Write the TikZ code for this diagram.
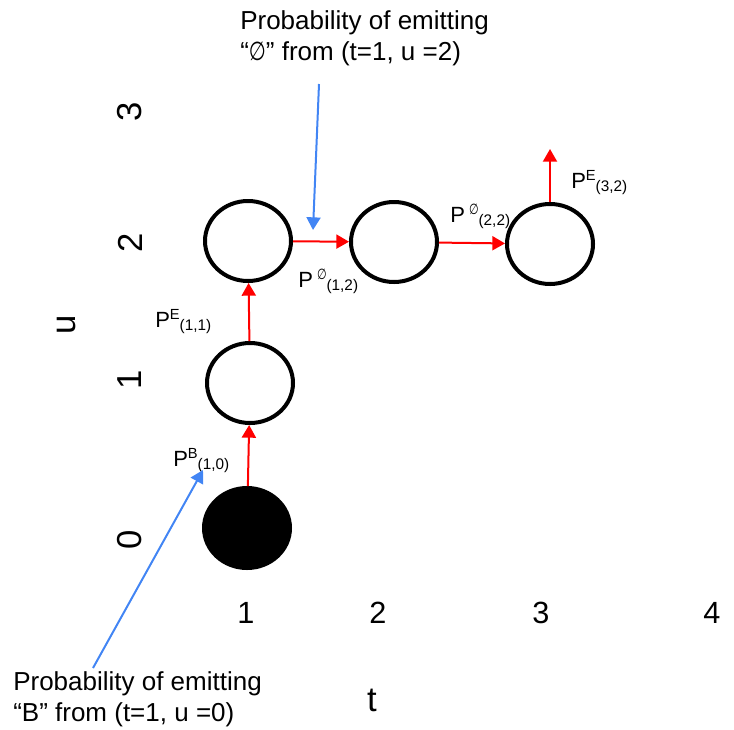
\documentclass[tikz,border=0pt]{standalone}
\usepackage{fontspec}
\setmainfont{Liberation Sans}
\newfontfamily\symfont{DejaVu Sans}
\usetikzlibrary{shapes.geometric,arrows.meta}
\definecolor{arrowred}{RGB}{255,0,0}
\definecolor{noteblue}{RGB}{66,133,244}
\newcommand{\emptysym}{\scalebox{0.75}[1]{\symfont ∅}}
\newcommand{\plab}[2]{P\raisebox{5.5pt}{\fontsize{11}{12}\selectfont #1}\raisebox{-2.5pt}{\fontsize{11.5}{12}\selectfont #2}}
\begin{document}
\begin{tikzpicture}[x=0.75pt,y=-0.75pt,
  state/.style={ellipse,draw=black,line width=3pt,minimum width=64.5pt,minimum height=60pt,inner sep=0pt},
  redarrow/.style={draw=arrowred,line width=1.5pt,-{Triangle[length=9.5pt,width=10.5pt]}},
  bluearrow/.style={draw=noteblue,line width=1.5pt,-{Triangle[length=9.5pt,width=10.5pt]}},
  lab/.style={font=\fontsize{16.5}{18}\selectfont,inner sep=0pt,anchor=base west},
  note/.style={font=\fontsize{19.5}{23.25}\selectfont,align=left,inner sep=0pt,anchor=north west},
  tick/.style={font=\fontsize{23}{26}\selectfont,inner sep=0pt},
  ytick/.style={font=\fontsize{26}{28}\selectfont,inner sep=0pt,rotate=90},
]
\useasboundingbox (0,0) rectangle (734,729);

% states
\node[state,fill=black] (s0) at (247,528) {};
\node[state] (s1) at (250,383) {};
\node[state] (s2) at (248,241) {};
\node[state] (s3) at (394,242) {};
\node[state] (s4) at (550,244) {};
\coordinate (top) at (550,149);

% transitions
\draw[redarrow] (s0) -- (s1);
\draw[redarrow] (s1) -- (s2);
\draw[redarrow] (s2) -- (s3);
\draw[redarrow] (s3) -- (s4);
\draw[redarrow] (s4) -- (top);

% transition labels
\node[lab] (l11) at (155,327) {\plab{E}{(1,1)}};
\node[lab] (l10) at (173,466) {\plab{B}{(1,0)}};
\node[lab] (l12) at (298,287) {\plab{\ \emptysym}{(1,2)}};
\node[lab] (l22) at (450,222) {\plab{\ \emptysym}{(2,2)}};
\node[lab] (l32) at (571,188) {\plab{E}{(3,2)}};

% notes
\node[note] (notetop) at (240,10) {Probability of emitting\\“\emptysym” from (t=1, u =2)};
\node[note] (notebot) at (13,671) {Probability of emitting\\“B” from (t=1, u =0)};
\coordinate (bt1) at (319,84);
\coordinate (bt2) at (313,230);
\draw[bluearrow] (bt1) -- (bt2);
\coordinate (bb1) at (93,668);
\coordinate (bb2) at (203,470);
\draw[bluearrow] (bb1) -- (bb2);

% axes labels
\node[tick] (x1) at (246,613) {1};
\node[tick] (x2) at (378,613) {2};
\node[tick] (x3) at (541,613) {3};
\node[tick] (x4) at (712,613) {4};
\node[font=\fontsize{26}{28}\selectfont,inner sep=0pt] (tl) at (372,700) {t};
\node[ytick] (y3) at (130,112) {3};
\node[ytick] (y2) at (130,243) {2};
\node[ytick] (y1) at (130,380) {1};
\node[ytick] (y0) at (130,540) {0};
\node[ytick] (ul) at (67,325) {u};
\end{tikzpicture}
\end{document}
